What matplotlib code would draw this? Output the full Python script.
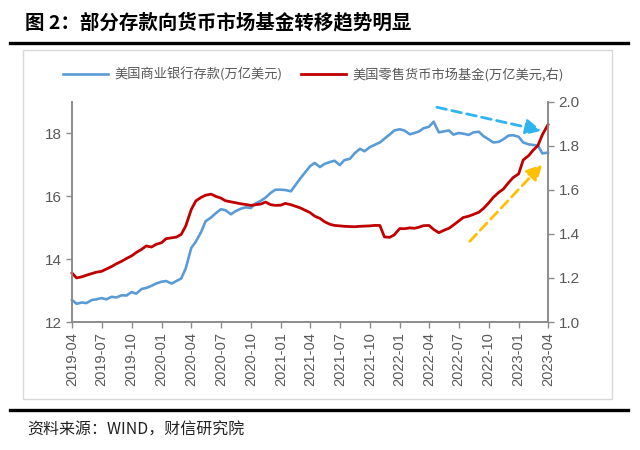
import numpy as np
import matplotlib
matplotlib.use("Agg")
import matplotlib.pyplot as plt
import matplotlib.dates as mdates
import pandas as pd
from matplotlib.lines import Line2D
from matplotlib.patches import Rectangle

plt.rcParams['font.family'] = ['Noto Sans CJK SC', 'DejaVu Sans']

# semi-monthly readings, 2019-04-01 .. 2023-04-01
dates = pd.date_range("2019-04-01", "2023-04-01", freq="SMS")

bank_deposits = [
    12.70, 12.58, 12.62, 12.60, 12.70, 12.72, 12.76, 12.72, 12.80, 12.78,
    12.85, 12.84, 12.95, 12.90, 13.05, 13.08, 13.15, 13.22, 13.28, 13.30,
    13.22, 13.30, 13.38, 13.70, 14.35, 14.55, 14.85, 15.20, 15.32, 15.45,
    15.58, 15.55, 15.42, 15.52, 15.60, 15.64, 15.62, 15.76, 15.85, 15.95,
    16.10, 16.20, 16.20, 16.19, 16.15, 16.35, 16.55, 16.73, 16.95, 17.05,
    16.92, 17.02, 17.08, 17.12, 16.98, 17.14, 17.18, 17.35, 17.50, 17.42,
    17.55, 17.62, 17.70, 17.82, 17.95, 18.08, 18.12, 18.08, 17.96, 18.00,
    18.05, 18.15, 18.20, 18.36, 18.02, 18.05, 18.08, 17.95, 18.00, 17.98,
    17.94, 18.02, 18.04, 17.90, 17.80, 17.70, 17.72, 17.80, 17.92, 17.93,
    17.88, 17.70, 17.64, 17.62, 17.60, 17.35, 17.38,
]

retail_mmf = [
    1.222, 1.200, 1.205, 1.212, 1.220, 1.226, 1.230, 1.240, 1.252, 1.264,
    1.276, 1.288, 1.300, 1.315, 1.330, 1.345, 1.340, 1.352, 1.360, 1.378,
    1.382, 1.385, 1.397, 1.435, 1.510, 1.549, 1.565, 1.575, 1.580, 1.570,
    1.562, 1.550, 1.545, 1.541, 1.536, 1.533, 1.529, 1.532, 1.535, 1.544,
    1.532, 1.529, 1.530, 1.538, 1.532, 1.525, 1.518, 1.508, 1.496, 1.480,
    1.470, 1.455, 1.443, 1.438, 1.436, 1.434, 1.433, 1.432, 1.434, 1.435,
    1.436, 1.438, 1.438, 1.386, 1.384, 1.395, 1.424, 1.423, 1.427, 1.425,
    1.430, 1.437, 1.438, 1.420, 1.405, 1.415, 1.425, 1.440, 1.458, 1.474,
    1.480, 1.488, 1.498, 1.515, 1.540, 1.565, 1.588, 1.603, 1.632, 1.655,
    1.672, 1.735, 1.755, 1.780, 1.800, 1.850, 1.895,
]

tick_dates = pd.date_range("2019-04-01", "2023-04-01", freq="3MS")

# trend arrows (start, end) on the right axis
blue_arrow_x = pd.to_datetime(["2022-04-25", "2023-03-13"])
blue_arrow_y = [1.974, 1.868]
gold_arrow_x = pd.to_datetime(["2022-08-04", "2023-03-15"])
gold_arrow_y = [1.366, 1.716]

COLOR_BLUE = "#5b9bd5"
COLOR_RED = "#c00000"
TEXT_GRAY = "#595959"
AXIS_GRAY = "#8c8c8c"

fig = plt.figure(figsize=(6.4, 4.5), dpi=100)

# frame around the chart
fig.patches.append(Rectangle((0.036, 0.113), 0.920, 0.776, transform=fig.transFigure,
                             fill=False, edgecolor="#d9d9d9", linewidth=1.0))
fig.lines.append(Line2D([0.016, 0.981], [0.904, 0.904], transform=fig.transFigure,
                        color="black", linewidth=2.4))
fig.lines.append(Line2D([0.016, 0.981], [0.088, 0.088], transform=fig.transFigure,
                        color="black", linewidth=2.4))

fig.text(0.039, 0.951, "图 2：部分存款向货币市场基金转移趋势明显", fontsize=14,
         fontweight="bold", va="center", ha="left")
fig.text(0.043, 0.044, "资料来源：WIND，财信研究院", fontsize=11.5,
         va="center", ha="left", color="#222222")

ax = fig.add_axes([0.1125, 0.2844, 0.7437, 0.49])
ax2 = ax.twinx()

l1, = ax.plot(dates, bank_deposits, color=COLOR_BLUE, linewidth=1.9,
              label="美国商业银行存款(万亿美元)", clip_on=False)
l2, = ax2.plot(dates, retail_mmf, color=COLOR_RED, linewidth=2.0,
               label="美国零售货币市场基金(万亿美元,右)", clip_on=False)

ax2.annotate("", xy=(blue_arrow_x[1], blue_arrow_y[1]),
             xytext=(blue_arrow_x[0], blue_arrow_y[0]),
             arrowprops=dict(arrowstyle="-|>", color="#2eb4ee", lw=2.0,
                             linestyle=(0, (3.5, 2)), mutation_scale=24,
                             shrinkA=0, shrinkB=0))
ax2.annotate("", xy=(gold_arrow_x[1], gold_arrow_y[1]),
             xytext=(gold_arrow_x[0], gold_arrow_y[0]),
             arrowprops=dict(arrowstyle="-|>", color="#ffc000", lw=2.0,
                             linestyle=(0, (3.5, 2)), mutation_scale=24,
                             shrinkA=0, shrinkB=0))

ax.set_xlim(dates[0], dates[-1])
ax.set_ylim(12, 19)
ax.set_yticks([12, 14, 16, 18])
ax2.set_ylim(1.0, 2.0)
ax2.set_yticks([1.0, 1.2, 1.4, 1.6, 1.8, 2.0])
ax2.yaxis.set_major_formatter(matplotlib.ticker.FormatStrFormatter("%.1f"))

ax.set_xticks(tick_dates)
ax.set_xticklabels([d.strftime("%Y-%m") for d in tick_dates], rotation=90,
                   family="Liberation Sans")

for a in (ax, ax2):
    for s in a.spines.values():
        s.set_color(AXIS_GRAY)
        s.set_linewidth(1.2)
    a.spines["top"].set_visible(False)
    a.tick_params(colors=AXIS_GRAY, labelcolor=TEXT_GRAY, length=4, width=1.0)
ax.tick_params(axis="y", labelsize=11)
ax.tick_params(axis="x", labelsize=10.5)
ax2.tick_params(axis="y", labelsize=11)
for lab in ax.get_yticklabels() + ax2.get_yticklabels():
    lab.set_family("Liberation Sans")

fig.legend(handles=[l1, l2], loc="center", bbox_to_anchor=(0.49, 0.834), ncol=2,
           frameon=False, fontsize=9.5, handlelength=3.4, columnspacing=1.4,
           labelcolor=TEXT_GRAY, handletextpad=0.5)

fig.savefig("out.png", dpi=100)
